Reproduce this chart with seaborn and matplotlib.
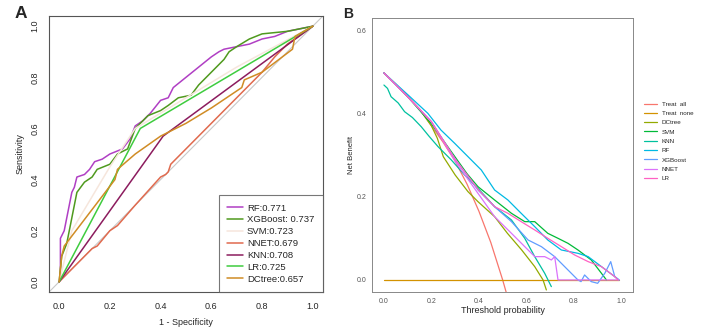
import pandas as pd
import matplotlib
matplotlib.use("Agg")
import matplotlib.pyplot as plt
import seaborn as sns

sns.set_style("white")
plt.rcParams['font.family'] = ['Liberation Sans', 'DejaVu Sans']

# ---- Panel A: ROC curves ----
roc_models = ["RF", "XGBoost", "SVM", "NNET", "KNN", "LR", "DCtree"]
roc_labels = ["RF:0.771", "XGBoost: 0.737", "SVM:0.723", "NNET:0.679",
              "KNN:0.708", "LR:0.725", "DCtree:0.657"]
roc_colors = ["#b03fc4", "#4f9a1e", "#f6e6dc", "#e06a4e", "#8c1c5e", "#3fcc3f", "#d08c25"]

rf_fpr = [0, 0.005, 0.005, 0.02, 0.03, 0.04, 0.05, 0.06, 0.07, 0.1, 0.12, 0.14, 0.17, 0.2,
          0.25, 0.28, 0.3, 0.33, 0.36, 0.4, 0.43, 0.45, 0.5, 0.55, 0.6, 0.63, 0.65, 0.7,
          0.75, 0.8, 0.85, 0.9, 1.0]
rf_tpr = [0, 0.02, 0.17, 0.2, 0.25, 0.3, 0.35, 0.37, 0.41, 0.42, 0.44, 0.47, 0.48, 0.5,
          0.52, 0.56, 0.61, 0.63, 0.66, 0.71, 0.72, 0.76, 0.8, 0.84, 0.88, 0.9, 0.91, 0.92,
          0.93, 0.95, 0.96, 0.98, 1.0]
xgb_fpr = [0, 0.01, 0.03, 0.05, 0.06, 0.07, 0.1, 0.13, 0.15, 0.2, 0.23, 0.27, 0.3, 0.35,
           0.4, 0.43, 0.47, 0.52, 0.55, 0.6, 0.65, 0.67, 0.7, 0.75, 0.8, 0.9, 1.0]
xgb_tpr = [0, 0.1, 0.15, 0.25, 0.3, 0.35, 0.39, 0.41, 0.44, 0.46, 0.5, 0.52, 0.6, 0.65,
           0.67, 0.69, 0.72, 0.73, 0.77, 0.82, 0.87, 0.9, 0.92, 0.95, 0.97, 0.98, 1.0]
svm_fpr = [0, 0.05, 0.2, 0.3, 0.5, 0.7, 1.0]
svm_tpr = [0, 0.2, 0.45, 0.6, 0.72, 0.84, 1.0]
nnet_fpr = [0, 0.05, 0.13, 0.15, 0.2, 0.23, 0.3, 0.4, 0.42, 0.43, 0.44, 0.5, 0.6, 0.7,
            0.8, 0.85, 0.9, 1.0]
nnet_tpr = [0, 0.05, 0.13, 0.14, 0.2, 0.22, 0.3, 0.41, 0.42, 0.43, 0.46, 0.52, 0.62, 0.72,
            0.82, 0.88, 0.93, 1.0]
knn_fpr = [0, 0.41, 1.0]
knn_tpr = [0, 0.57, 1.0]
lr_fpr = [0, 0.32, 1.0]
lr_tpr = [0, 0.6, 1.0]
dct_fpr = [0, 0.01, 0.02, 0.22, 0.23, 0.3, 0.4, 0.5, 0.6, 0.72, 0.73, 0.8, 0.92, 0.93, 1.0]
dct_tpr = [0, 0.1, 0.14, 0.4, 0.44, 0.5, 0.57, 0.62, 0.68, 0.76, 0.79, 0.82, 0.91, 0.96, 1.0]

roc_fpr = [rf_fpr, xgb_fpr, svm_fpr, nnet_fpr, knn_fpr, lr_fpr, dct_fpr]
roc_tpr = [rf_tpr, xgb_tpr, svm_tpr, nnet_tpr, knn_tpr, lr_tpr, dct_tpr]

# ---- Panel B: decision curves ----
dca_models = ["Treat  all", "Treat  none", "DCtree", "SVM", "KNN", "RF", "XGBoost", "NNET", "LR"]
dca_colors = ["#f8766d", "#d39200", "#93aa00", "#00ba38", "#00c19f", "#00b9e3",
              "#619cff", "#db72fb", "#ff61c3"]

all_x = [0, 0.05, 0.1, 0.15, 0.2, 0.25, 0.3, 0.35, 0.4, 0.45, 0.5, 0.515]
all_y = [0.497, 0.47, 0.44, 0.41, 0.37, 0.33, 0.285, 0.23, 0.165, 0.09, 0.0, -0.03]
none_x = [0, 0.99]
none_y = [0, 0]
dct_x = [0, 0.05, 0.1, 0.15, 0.2, 0.225, 0.25, 0.3, 0.354, 0.396, 0.466, 0.52, 0.58,
         0.635, 0.67, 0.684]
dct_y = [0.497, 0.47, 0.44, 0.41, 0.37, 0.34, 0.296, 0.252, 0.212, 0.188, 0.152, 0.112,
         0.072, 0.032, 0.0, -0.024]
svm_x = [0, 0.1, 0.2, 0.3, 0.35, 0.396, 0.466, 0.537, 0.593, 0.635, 0.69, 0.733, 0.775,
         0.817, 0.873, 0.916, 0.937]
svm_y = [0.497, 0.44, 0.375, 0.295, 0.255, 0.224, 0.192, 0.16, 0.14, 0.14, 0.112, 0.1,
         0.088, 0.072, 0.048, 0.016, 0.0]
knn_x = [0, 0.015, 0.03, 0.06, 0.087, 0.12, 0.157, 0.19, 0.228, 0.284, 0.34, 0.396, 0.466,
         0.537, 0.593, 0.635, 0.677, 0.705]
knn_y = [0.468, 0.46, 0.44, 0.425, 0.404, 0.39, 0.368, 0.345, 0.32, 0.288, 0.252, 0.22,
         0.176, 0.144, 0.1, 0.056, 0.016, -0.016]
rf_x = [0, 0.1, 0.185, 0.24, 0.298, 0.354, 0.41, 0.466, 0.522, 0.578, 0.635, 0.69, 0.747,
        0.817, 0.86, 0.916, 0.972, 0.99]
rf_y = [0.497, 0.445, 0.4, 0.36, 0.328, 0.296, 0.264, 0.216, 0.192, 0.16, 0.128, 0.096,
        0.072, 0.064, 0.056, 0.032, 0.008, 0.0]
xgb_x = [0, 0.1, 0.2, 0.3, 0.396, 0.466, 0.537, 0.607, 0.663, 0.719, 0.761, 0.789, 0.817,
         0.83, 0.845, 0.873, 0.9, 0.93, 0.955, 0.972, 0.99]
xgb_y = [0.497, 0.44, 0.38, 0.29, 0.216, 0.176, 0.14, 0.096, 0.08, 0.056, 0.032, 0.016,
         0.0, -0.004, 0.012, -0.004, -0.008, 0.016, 0.044, 0.008, 0.0]
nnet_x = [0, 0.1, 0.2, 0.3, 0.396, 0.466, 0.537, 0.593, 0.635, 0.677, 0.705, 0.719, 0.733,
          0.99]
nnet_y = [0.497, 0.44, 0.38, 0.285, 0.208, 0.152, 0.112, 0.08, 0.056, 0.056, 0.048, 0.056,
          0.0, 0.0]
lr_x = [0, 0.1, 0.2, 0.3, 0.4, 0.466, 0.522, 0.578, 0.635, 0.69, 0.747, 0.803, 0.86,
        0.916, 0.972, 0.986]
lr_y = [0.497, 0.44, 0.38, 0.29, 0.215, 0.176, 0.16, 0.14, 0.12, 0.1, 0.08, 0.06, 0.044,
        0.032, 0.008, 0.0]

dca_x = [all_x, none_x, dct_x, svm_x, knn_x, rf_x, xgb_x, nnet_x, lr_x]
dca_y = [all_y, none_y, dct_y, svm_y, knn_y, rf_y, xgb_y, nnet_y, lr_y]

roc_df = pd.concat([pd.DataFrame({"fpr": f, "tpr": t, "model": lab})
                    for f, t, lab in zip(roc_fpr, roc_tpr, roc_labels)])
dca_df = pd.concat([pd.DataFrame({"pt": x, "nb": y, "model": m})
                    for x, y, m in zip(dca_x, dca_y, dca_models)])

fig = plt.figure(figsize=(7.06, 3.33), dpi=100)
ax1 = fig.add_axes([0.0694, 0.123, 0.388, 0.829])
ax2 = fig.add_axes([0.527, 0.123, 0.370, 0.823])

# ROC panel
ax1.plot([-0.04, 1.04], [-0.04, 1.04], color="#c8c8c8", lw=0.8, zorder=1)
sns.lineplot(data=roc_df, x="fpr", y="tpr", hue="model", hue_order=roc_labels,
             palette=dict(zip(roc_labels, roc_colors)), sort=False, estimator=None,
             lw=1.1, ax=ax1, legend=True)
ax1.set_xlim(-0.04, 1.04)
ax1.set_ylim(-0.04, 1.04)
ax1.set_xticks([0, 0.2, 0.4, 0.6, 0.8, 1.0])
ax1.set_yticks([0, 0.2, 0.4, 0.6, 0.8, 1.0])
ax1.set_xticklabels(["0.0", "0.2", "0.4", "0.6", "0.8", "1.0"], fontsize=6.5)
ax1.set_yticklabels(["0.0", "0.2", "0.4", "0.6", "0.8", "1.0"], fontsize=6.5,
                    rotation=90, va="center")
ax1.tick_params(length=3, width=0.6, color="#444444", pad=4)
ax1.set_xlabel("1 - Specificity", fontsize=6.5, labelpad=5)
ax1.set_ylabel("Sensitivity", fontsize=6.5, labelpad=4)
for s in ax1.spines.values():
    s.set_color("#555555")
    s.set_linewidth(0.8)
leg1 = ax1.legend(loc="lower right", fontsize=6.8, frameon=True, fancybox=False,
                  borderpad=0.9, labelspacing=0.3, handlelength=1.7, handletextpad=0.4,
                  borderaxespad=0.0)
leg1.get_frame().set_edgecolor("#555555")
leg1.get_frame().set_linewidth(0.8)
fig.text(0.021, 1 - 18 / 333, "A", fontsize=12.5, fontweight="bold", va="baseline")

# DCA panel
sns.lineplot(data=dca_df, x="pt", y="nb", hue="model", hue_order=dca_models,
             palette=dict(zip(dca_models, dca_colors)), sort=False, estimator=None,
             lw=0.9, ax=ax2, legend=True)
ax2.set_xlim(-0.05, 1.05)
ax2.set_ylim(-0.029, 0.629)
ax2.set_xticks([0, 0.2, 0.4, 0.6, 0.8, 1.0])
ax2.set_yticks([0, 0.2, 0.4, 0.6])
ax2.set_xticklabels(["0.0", "0.2", "0.4", "0.6", "0.8", "1.0"], fontsize=5, color="#555555")
ax2.set_yticklabels(["0.0", "0.2", "0.4", "0.6"], fontsize=5, color="#555555")
ax2.tick_params(length=2, width=0.5, color="#777777", pad=2)
ax2.set_xlabel("Threshold probability", fontsize=6.5, labelpad=1)
ax2.set_ylabel("Net Benefit", fontsize=5.5, labelpad=1)
for s in ax2.spines.values():
    s.set_color("#888888")
    s.set_linewidth(0.7)
leg2 = ax2.legend(loc="center left", bbox_to_anchor=(1.02, 0.55), fontsize=4.5,
                  frameon=False, labelspacing=0.63, handlelength=2.0)
fig.text(343 / 706, 1 - 18 / 333, "B", fontsize=10, fontweight="bold", va="baseline")

fig.savefig("out.png", dpi=100)
